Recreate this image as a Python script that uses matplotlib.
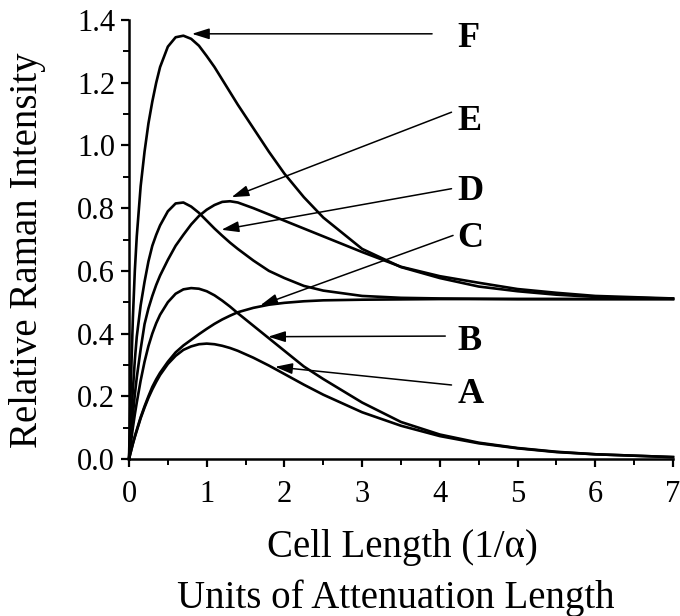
"""Relative Raman intensity vs cell length for six collection geometries (A-F)."""
import matplotlib
matplotlib.use("Agg")
import matplotlib.pyplot as plt
from matplotlib.ticker import MultipleLocator

plt.rcParams["font.family"] = ["Liberation Serif", "DejaVu Serif"]

# cell length in units of attenuation length (1/alpha)
cell_length = [0, 0.025, 0.05, 0.075, 0.1, 0.15, 0.2, 0.25, 0.3, 0.35, 0.4, 0.5, 0.6, 0.7, 0.8,
               0.9, 1.0, 1.1, 1.2, 1.3, 1.4, 1.6, 1.8, 2.0, 2.25, 2.5, 3.0, 3.5, 4.0, 4.5, 5.0,
               5.5, 6.0, 7.0]

curve_a = [0, 0.024, 0.048, 0.07, 0.09, 0.13, 0.164, 0.195, 0.222, 0.246, 0.268, 0.303, 0.329,
           0.348, 0.359, 0.366, 0.368, 0.366, 0.361, 0.354, 0.345, 0.323, 0.298, 0.271, 0.237,
           0.205, 0.149, 0.106, 0.073, 0.050, 0.034, 0.022, 0.015, 0.006]
curve_b = [0, 0.052, 0.10, 0.142, 0.18, 0.25, 0.31, 0.36, 0.40, 0.433, 0.46, 0.50, 0.527, 0.541,
           0.545, 0.543, 0.535, 0.522, 0.505, 0.486, 0.465, 0.425, 0.385, 0.345, 0.295, 0.255,
           0.180, 0.118, 0.078, 0.052, 0.035, 0.023, 0.015, 0.006]
curve_c = [0, 0.025, 0.05, 0.072, 0.093, 0.133, 0.168, 0.20, 0.23, 0.254, 0.275, 0.31, 0.34,
           0.362, 0.38, 0.398, 0.415, 0.431, 0.445, 0.457, 0.468, 0.482, 0.492, 0.498, 0.503,
           0.506, 0.508, 0.509, 0.51, 0.51, 0.51, 0.51, 0.51, 0.51]
curve_d = [0, 0.12, 0.22, 0.315, 0.39, 0.49, 0.565, 0.63, 0.68, 0.715, 0.745, 0.79, 0.815, 0.818,
           0.805, 0.785, 0.76, 0.735, 0.712, 0.69, 0.67, 0.633, 0.60, 0.577, 0.552, 0.537, 0.52,
           0.514, 0.512, 0.511, 0.51, 0.51, 0.51, 0.51]
curve_e = [0, 0.075, 0.14, 0.205, 0.26, 0.35, 0.43, 0.48, 0.52, 0.555, 0.585, 0.635, 0.68, 0.715,
           0.748, 0.775, 0.795, 0.81, 0.82, 0.822, 0.818, 0.80, 0.78, 0.76, 0.735, 0.71, 0.66,
           0.613, 0.583, 0.562, 0.542, 0.53, 0.52, 0.512]
curve_f = [0, 0.25, 0.45, 0.60, 0.71, 0.87, 0.98, 1.07, 1.14, 1.20, 1.25, 1.315, 1.345, 1.35,
           1.34, 1.318, 1.285, 1.25, 1.21, 1.17, 1.13, 1.055, 0.98, 0.91, 0.835, 0.77, 0.67,
           0.612, 0.577, 0.55, 0.535, 0.524, 0.517, 0.511]

curves = [curve_a, curve_b, curve_c, curve_d, curve_e, curve_f]
labels = ["A", "B", "C", "D", "E", "F"]

# annotation geometry: (arrow tail, arrow tip, label baseline)
arrow_tails = [(4.15, 0.236), (4.07, 0.392), (4.17, 0.713), (4.15, 0.862), (4.15, 1.106), (3.90, 1.356)]
arrow_tips = [(1.88, 0.294), (1.79, 0.390), (1.69, 0.490), (1.19, 0.731), (1.32, 0.835), (0.81, 1.356)]
label_y = [0.177, 0.347, 0.675, 0.825, 1.048, 1.313]
label_x = 4.23

fig = plt.figure(figsize=(6.8, 6.16), dpi=100)
ax = fig.add_axes([0.1897, 0.2549, 0.80, 0.7126])

for ys in curves:
    ax.plot(cell_length, ys, color="black", linewidth=1.9, solid_joinstyle="round", clip_on=False)

for lab, tail, tip, ly in zip(labels, arrow_tails, arrow_tips, label_y):
    ax.annotate("", xy=tip, xytext=tail,
                arrowprops=dict(arrowstyle="-|>,head_length=0.7,head_width=0.22", mutation_scale=15,
                                color="black", lw=1.1, shrinkA=0, shrinkB=0))
    ax.text(label_x, ly, lab, fontsize=26, fontweight="bold", ha="left", va="baseline")

ax.set_xlim(0, 7)
ax.set_ylim(0, 1.4)
ax.xaxis.set_major_locator(MultipleLocator(1))
ax.xaxis.set_minor_locator(MultipleLocator(0.5))
ax.yaxis.set_major_locator(MultipleLocator(0.2))
ax.yaxis.set_minor_locator(MultipleLocator(0.1))
ax.yaxis.set_major_formatter(lambda v, pos: f"{v:.1f}")

for side in ["top", "right"]:
    ax.spines[side].set_visible(False)
for side in ["left", "bottom"]:
    ax.spines[side].set_linewidth(1.8)

ax.tick_params(which="major", direction="out", length=6, width=1.6, labelsize=22)
ax.tick_params(which="minor", direction="out", length=4, width=1.4)
ax.tick_params(axis="x", which="major", pad=9)
ax.tick_params(axis="y", which="major", pad=4)

fig.text(402 / 680, 1 - 548 / 616, "Cell Length (1/\u03b1)", fontsize=28, ha="center", va="center")
fig.text(396 / 680, 1 - 598 / 616, "Units of Attenuation Length", fontsize=28, ha="center", va="center")
fig.text(28 / 680, 1 - 250 / 616, "Relative Raman Intensity", fontsize=28, rotation=90,
         ha="center", va="center")

fig.savefig("out.png", dpi=100)
